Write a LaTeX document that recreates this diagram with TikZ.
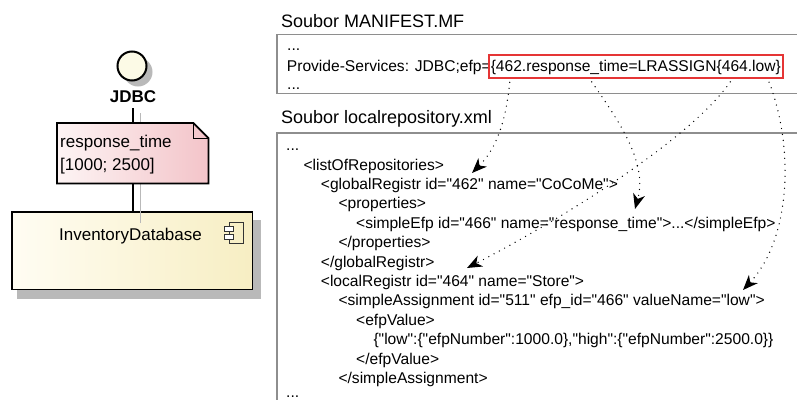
\documentclass[tikz,border=0pt]{standalone}
\usepackage{fontspec}
\setmainfont{Liberation Sans}[Ligatures=TeXOff]
\usetikzlibrary{arrows.meta,calc}

\definecolor{frame}{HTML}{8E8E8E}
\definecolor{shadowgray}{HTML}{B9B9B9}
\definecolor{notel}{HTML}{FDF4F4}
\definecolor{noter}{HTML}{F3C4C9}
\definecolor{compl}{HTML}{FFFDF3}
\definecolor{compr}{HTML}{F7EEC3}
\definecolor{ballfill}{HTML}{FCFAE6}
\definecolor{marker}{HTML}{E53535}

\begin{document}
\begin{tikzpicture}[x=1pt,y=-1pt,
  code/.style={anchor=base west, inner sep=0pt, font=\fontsize{15.6}{18}\selectfont},
  filetitle/.style={anchor=base west, inner sep=0pt, font=\fontsize{18}{21}\selectfont},
  uml/.style={anchor=base, inner sep=0pt, font=\fontsize{17}{20}\selectfont},
  panel/.style={draw=frame, line width=1.4pt},
  link/.style={dash pattern=on 0pt off 6pt, line cap=round, line width=1.4pt,
    shorten <=3pt, -{Stealth[length=15pt,width=12pt,inset=4.5pt]}},
  wire/.style={line width=2.3pt},
]
\useasboundingbox (0,0) rectangle (797,399);

% ---------- UML part ----------
% shadows
\fill[shadowgray] (138,72) circle (14.5);
\node[anchor=north west, minimum width=151, minimum height=60, inner sep=0pt] (note) at (57,123) {};
\node[anchor=north west, minimum width=240, minimum height=77, inner sep=0pt] (compbox) at (12,212) {};
\fill[shadowgray] ($(compbox.north west)+(5,8)$) rectangle ($(compbox.south east)+(9,10)$);
\fill[shadowgray, shift={(6,6)}] (note.north west) -- ($(note.north east)+(-15,0)$)
  -- ($(note.north east)+(0,15)$) -- (note.south east) -- (note.south west) -- cycle;

% component
\draw[line width=1.8pt, shading angle=60, left color=compl, right color=compr]
  (compbox.north west) rectangle (compbox.south east);
\node[uml] (compname) at (130.5,240) {InventoryDatabase};
\draw[line width=1pt, draw=black!80] (229,222) rectangle (243,243);
\draw[line width=1pt, draw=black!80, fill=white] (224,226) rectangle (233,231);
\draw[line width=1pt, draw=black!80, fill=white] (224,234) rectangle (233,239);

% provided interface
\node[circle, draw, line width=2pt, fill=ballfill, minimum size=29, inner sep=0pt] (ball) at (132,66) {};
\node[anchor=base, inner sep=0pt, font=\bfseries\fontsize{17}{20}\selectfont] (jdbc) at (133,102.7) {JDBC};
\draw[shadowgray, line width=1pt] ($(jdbc.south)+(7,10)$) -- ($(jdbc.south |- compbox.north)+(7,11)$);
\draw[wire, shorten <=5pt] (jdbc.south) -- (jdbc.south |- compbox.north);

% note attached to the interface
\shade[left color=notel, right color=noter] (note.north west) -- ($(note.north east)+(-15,0)$)
  -- ($(note.north east)+(0,15)$) -- (note.south east) -- (note.south west) -- cycle;
\draw[line width=1.8pt, line join=miter] (note.north west) -- ($(note.north east)+(-15,0)$)
  -- ($(note.north east)+(0,15)$) -- (note.south east) -- (note.south west) -- cycle;
\draw[line width=1pt] ($(note.north east)+(-15,0)$) -- ($(note.north east)+(-15,15)$) -- ($(note.north east)+(0,15)$);
\node[uml, anchor=base west] (notel1) at (60,147.7) {response\_time};
\node[uml, anchor=base west] (notel2) at (60,170) {[1000; 2500]};

% ---------- MANIFEST.MF ----------
\node[filetitle] (mftitle) at (281,27) {Soubor MANIFEST.MF};
\draw[panel] (277,34.5) rectangle (805,93.5);
\node[code] (mf1) at (287,50) {...};
\node[code] (mf2) at (286.7,71) {Provide-Services: JDBC;efp=\{462.response\_time=LRASSIGN\{464.low\}};
\node[code] (mf3) at (287,89) {...};
\node[draw=marker, line width=2.4pt, anchor=north west, minimum width=294, minimum height=23, inner sep=0pt] (efp) at (488,54) {};

% ---------- localrepository.xml ----------
\node[filetitle] (xmltitle) at (281,123) {Soubor localrepository.xml};
\draw[panel] (277,133) rectangle (805,420);
\node[code] (x0) at (286,150.5) {...};
\node[code] (x1) at (303.3,170) {<listOfRepositories>};
\node[code] (x2) at (320.7,189.4) {<globalRegistr id="462" name="CoCoMe">};
\node[code] (x3) at (338.3,208.8) {<properties>};
\node[code] (x4) at (356,228.2) {<simpleEfp id="466" name="response\_time">...</simpleEfp>};
\node[code] (x5) at (338.3,247.6) {</properties>};
\node[code] (x6) at (320.7,267) {</globalRegistr>};
\node[code] (x7) at (320.7,286.4) {<localRegistr id="464" name="Store">};
\node[code] (x8) at (338.3,305.8) {<simpleAssignment id="511" efp\_id="466" valueName="low">};
\node[code] (x9) at (356,325.2) {<efpValue>};
\node[code] (x10) at (373.3,344.6) {\{"low":\{"efpNumber":1000.0\},"high":\{"efpNumber":2500.0\}\}};
\node[code] (x11) at (356,364) {</efpValue>};
\node[code] (x12) at (338.3,383.4) {</simpleAssignment>};
\node[code] (x13) at (286,397) {...};

% ---------- references from the manifest into the repository ----------
\coordinate (t1) at (472,173);
\coordinate (t2) at (635,209);
\coordinate (t3) at (467,268);
\coordinate (t4) at (743,290);
\draw[link] ($(efp.south west)+(22,0)$) .. controls (506,120) and (497,148) .. (t1);
\draw[link] ($(efp.south west)+(102,0)$) .. controls (618,120) and (648,162) .. (t2);
\draw[link] ($(efp.south west)+(244,0)$) .. controls (690,140) and (560,220) .. (t3);
\draw[link] ($(efp.south west)+(280,0)$) .. controls (795,150) and (790,240) .. (t4);
\end{tikzpicture}
\end{document}
